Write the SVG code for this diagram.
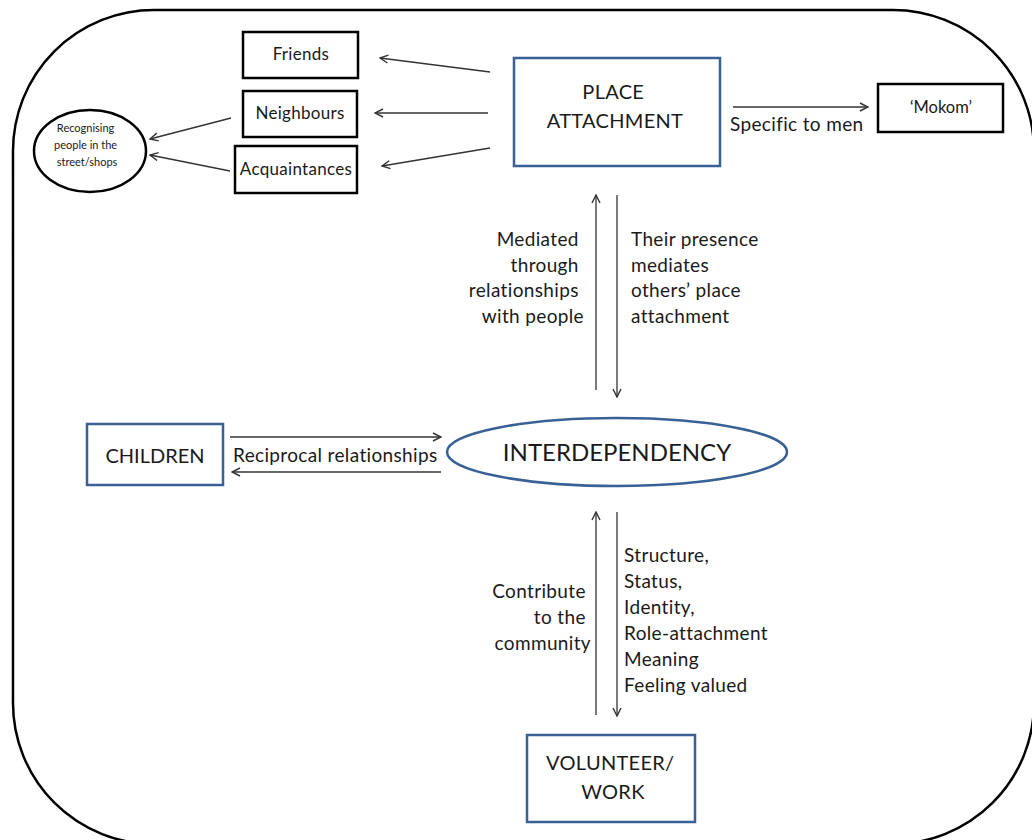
<svg xmlns="http://www.w3.org/2000/svg" width="1032" height="840" viewBox="0 0 1032 840">
  <defs>
    <marker id="arrow" viewBox="0 0 10 10" refX="9" refY="5" markerWidth="10" markerHeight="10" markerUnits="userSpaceOnUse" orient="auto">
      <path d="M1,1 L9,5 L1,9" fill="none" stroke="#333" stroke-width="1.4"/>
    </marker>
    <style>
      .frame { fill: #fff; stroke: #000; stroke-width: 2.5; }
      .box { fill: #fff; stroke: #000; stroke-width: 2.5; }
      .blue { fill: #fff; stroke: #3a6195; stroke-width: 2.5; }
      .link { fill: none; stroke: #333; stroke-width: 1.3; marker-end: url(#arrow); }
      text { font-family: Lato, "Liberation Sans", sans-serif; fill: #1a1a1a; }
      .lbl { font-size: 19px; letter-spacing: 0.35px; }
      .node { font-size: 17px; letter-spacing: 0.3px; }
      .t20 { font-size: 20px; letter-spacing: 0.3px; }
      .small { font-size: 11px; }
      .mid { text-anchor: middle; }
      .end { text-anchor: end; }
    </style>
  </defs>

  <rect width="1032" height="840" fill="#fff"/>
  <rect class="frame" x="13" y="10" width="1021" height="834" rx="141" ry="141"/>

  <g id="connectors">
    <line class="link" x1="490" y1="72" x2="380" y2="58"/>
    <line class="link" x1="488" y1="113" x2="375" y2="113"/>
    <line class="link" x1="490" y1="148" x2="382" y2="166"/>
    <line class="link" x1="231" y1="118" x2="150" y2="139"/>
    <line class="link" x1="230" y1="171" x2="150" y2="155"/>
    <line class="link" x1="733" y1="107" x2="868" y2="107"/>
    <line class="link" x1="596" y1="390" x2="596" y2="195"/>
    <line class="link" x1="617" y1="195" x2="617" y2="397"/>
    <line class="link" x1="230" y1="437" x2="441" y2="437"/>
    <line class="link" x1="441" y1="472" x2="232" y2="472"/>
    <line class="link" x1="596" y1="715" x2="596" y2="512"/>
    <line class="link" x1="617" y1="512" x2="617" y2="716"/>
  </g>

  <g id="labels">
    <text class="lbl" x="730" y="131">Specific to men</text>
    <text class="lbl end">
      <tspan x="584" y="246">Mediated</tspan>
      <tspan x="584" y="272">through</tspan>
      <tspan x="584" y="297">relationships</tspan>
      <tspan x="584" y="323">with people</tspan>
    </text>
    <text class="lbl">
      <tspan x="631" y="246">Their presence</tspan>
      <tspan x="631" y="272">mediates</tspan>
      <tspan x="631" y="297">others’  place</tspan>
      <tspan x="631" y="323">attachment</tspan>
    </text>
    <text class="lbl" x="233" y="462">Reciprocal relationships</text>
    <text class="lbl end">
      <tspan x="591" y="598">Contribute</tspan>
      <tspan x="591" y="624">to the</tspan>
      <tspan x="591" y="650">community</tspan>
    </text>
    <text class="lbl">
      <tspan x="624" y="562">Structure,</tspan>
      <tspan x="624" y="588">Status,</tspan>
      <tspan x="624" y="614">Identity,</tspan>
      <tspan x="624" y="640">Role-attachment</tspan>
      <tspan x="624" y="666">Meaning</tspan>
      <tspan x="624" y="692">Feeling valued</tspan>
    </text>
  </g>

  <g id="friends">
    <rect class="box" x="243" y="32" width="115" height="46"/>
    <text class="node mid" x="301" y="60">Friends</text>
  </g>
  <g id="neighbours">
    <rect class="box" x="243" y="91" width="114" height="46"/>
    <text class="node mid" x="300" y="119">Neighbours</text>
  </g>
  <g id="acquaintances">
    <rect class="box" x="235" y="146" width="122" height="47"/>
    <text class="node mid" x="296" y="175">Acquaintances</text>
  </g>
  <g id="recognising">
    <ellipse cx="90" cy="151" rx="56" ry="41" fill="#fff" stroke="#000" stroke-width="2.5"/>
    <text class="small mid">
      <tspan x="87" y="132">Recognising</tspan>
      <tspan x="87" y="149">people in the</tspan>
      <tspan x="87" y="166">street/shops</tspan>
    </text>
  </g>
  <g id="place-attachment">
    <rect class="blue" x="514" y="58" width="206" height="108"/>
    <text class="t20 mid">
      <tspan x="616" y="99">PLACE</tspan>
      <tspan x="615" y="128">ATTACHMENT</tspan>
    </text>
  </g>
  <g id="mokom">
    <rect class="box" x="878" y="84" width="125" height="48"/>
    <text class="mid" x="941" y="113" font-size="16.5">‘Mokom’</text>
  </g>
  <g id="children">
    <rect class="blue" x="87" y="424" width="136" height="61"/>
    <text class="mid" x="155" y="463" font-size="20">CHILDREN</text>
  </g>
  <g id="interdependency">
    <ellipse cx="617" cy="452" rx="170" ry="34" fill="#fff" stroke="#3a6195" stroke-width="2.5"/>
    <text class="mid" x="617" y="461" font-size="24">INTERDEPENDENCY</text>
  </g>
  <g id="volunteer">
    <rect class="blue" x="527" y="735" width="168" height="87"/>
    <text class="t20 mid">
      <tspan x="613" y="770">VOLUNTEER/</tspan>
      <tspan x="613" y="799">WORK</tspan>
    </text>
  </g>
</svg>
